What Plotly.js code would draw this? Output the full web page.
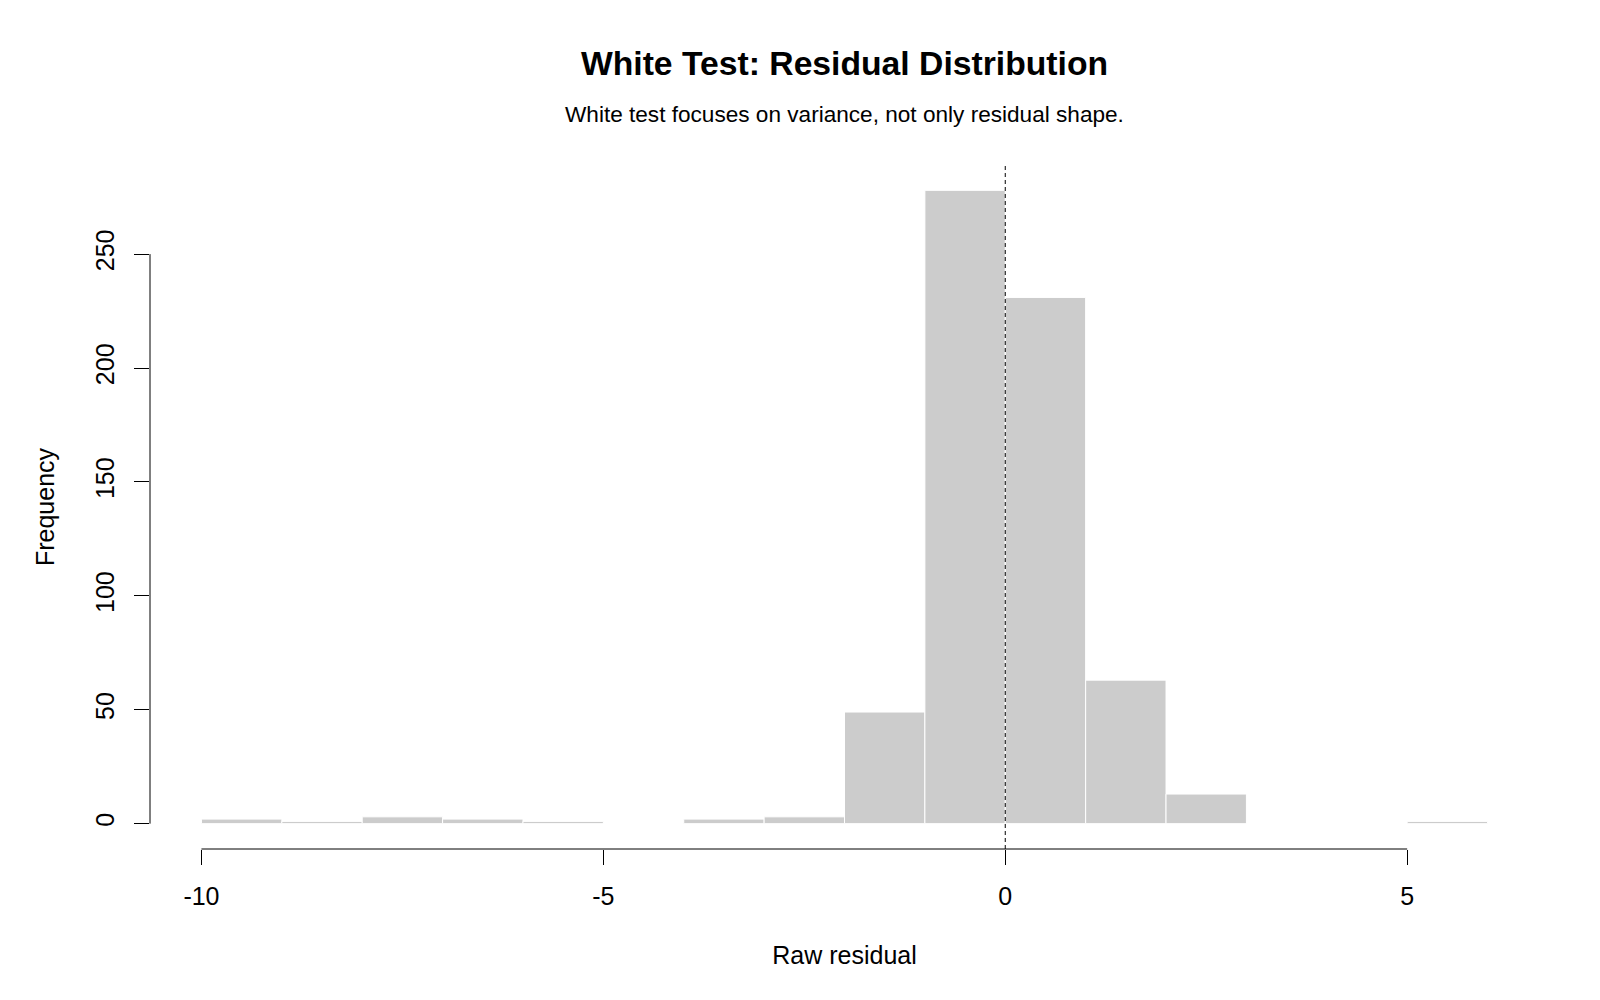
<!DOCTYPE html>
<html>
<head>
<meta charset="utf-8">
<script src="https://cdn.plot.ly/plotly-3.0.1.min.js"></script>
<style>
  html, body { margin: 0; padding: 0; background: #ffffff; }
  #chart { width: 1600px; height: 1000px; }
</style>
</head>
<body>
<div id="chart"></div>
<script>
// ---- data ----
const binStarts = [-10, -9, -8, -7, -6, -5, -4, -3, -2, -1, 0, 1, 2, 3, 4, 5];
const binCounts = [2, 1, 3, 2, 1, 0, 2, 3, 49, 278, 231, 63, 13, 0, 0, 1];
const binWidth = 1;
const xTicks = [-10, -5, 0, 5];
const xTickLabels = ['-10', '-5', '0', '5'];
const yTicks = [0, 50, 100, 150, 200, 250];
const yTickLabels = ['0', '50', '100', '150', '200', '250'];
const refLine = 0;

const titleText = 'White Test: Residual Distribution';
const subtitleText = 'White test focuses on variance, not only residual shape.';
const xLabel = 'Raw residual';
const yLabel = 'Frequency';

// R-style 4% axis extension
const xMin = binStarts[0], xMax = binStarts[binStarts.length - 1] + binWidth;
const xPad = (xMax - xMin) * 0.04;
const yMax = Math.max(...binCounts);
const yPad = yMax * 0.04;

const FONT = 'Liberation Sans, Arial, Helvetica, sans-serif';

const trace = {
  type: 'bar',
  x: binStarts,
  y: binCounts,
  width: binWidth,
  offset: 0,
  marker: { color: '#cccccc', line: { color: '#ffffff', width: 1 } },
  hoverinfo: 'x+y',
  showlegend: false
};

const layout = {
  width: 1600,
  height: 1000,
  paper_bgcolor: '#ffffff',
  plot_bgcolor: '#ffffff',
  font: { family: FONT, color: '#000000', size: 25 },
  margin: { l: 150, r: 61, t: 165, b: 151, pad: 0 },
  bargap: 0,
  title: {
    text: '<b>' + titleText + '</b>',
    font: { family: FONT, size: 33.7, color: '#000000' },
    xref: 'paper', x: 0.5, xanchor: 'center',
    yref: 'container', y: 1 - 63 / 1000, yanchor: 'middle'
  },
  annotations: [{
    text: subtitleText,
    xref: 'paper', x: 0.5, xanchor: 'center',
    yref: 'paper', y: (849 - 114) / 684, yanchor: 'middle',
    showarrow: false,
    font: { family: FONT, size: 22.6, color: '#000000' }
  }],
  xaxis: {
    range: [xMin - xPad, xMax + xPad],
    tickmode: 'array', tickvals: xTicks, ticktext: xTickLabels,
    ticks: 'outside', ticklen: 15, tickwidth: 1, tickcolor: '#000000',
    ticklabelstandoff: 10,
    tickfont: { family: FONT, size: 25, color: '#000000' },
    showgrid: false, zeroline: false, showline: false,
    automargin: false,
    title: { text: xLabel, font: { family: FONT, size: 25, color: '#000000' }, standoff: 37 }
  },
  yaxis: {
    range: [-yPad, yMax + yPad],
    tickmode: 'array', tickvals: yTicks, ticktext: yTickLabels,
    ticks: 'outside', ticklen: 15, tickwidth: 1, tickcolor: '#000000',
    tickangle: -90,
    ticklabelstandoff: 10,
    tickfont: { family: FONT, size: 25, color: '#000000' },
    showgrid: false, zeroline: false, showline: false,
    automargin: false,
    title: { text: yLabel, font: { family: FONT, size: 25, color: '#000000' }, standoff: 29 }
  },
  shapes: [
    { type: 'line', xref: 'x', yref: 'paper',
      x0: xTicks[0], x1: xTicks[xTicks.length - 1], y0: 0, y1: 0,
      line: { color: '#000000', width: 1 } },
    { type: 'line', xref: 'paper', yref: 'y',
      x0: 0, x1: 0, y0: yTicks[0], y1: yTicks[yTicks.length - 1],
      line: { color: '#000000', width: 1 } },
    { type: 'line', xref: 'x', yref: 'paper',
      x0: refLine, x1: refLine, y0: 0, y1: 1,
      line: { color: '#000000', width: 1, dash: '4px,3px' } }
  ]
};

Plotly.newPlot('chart', [trace], layout, { displayModeBar: false, staticPlot: true });
</script>
</body>
</html>
